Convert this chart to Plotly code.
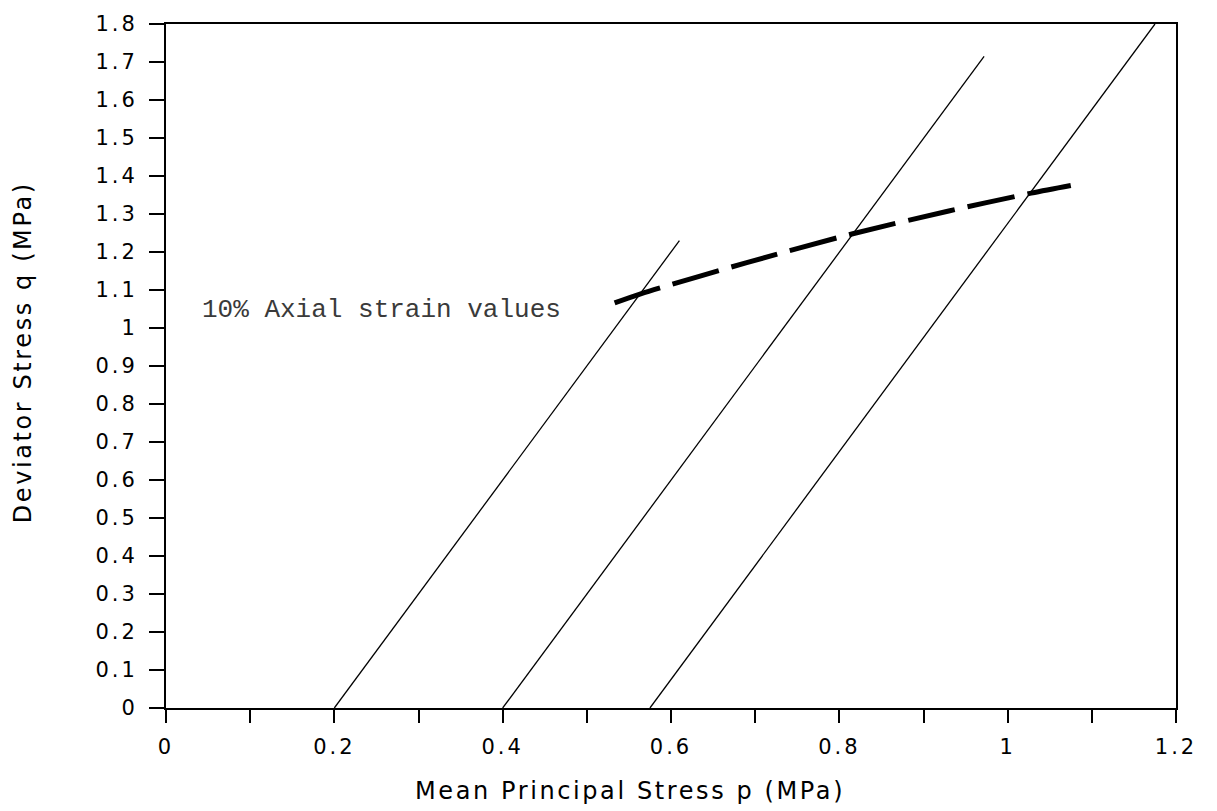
import plotly.graph_objects as go

# Total stress paths in p-q space (MPa)
path1_p = [0.2, 0.61]
path1_q = [0.0, 1.23]
path2_p = [0.4, 0.972]
path2_q = [0.0, 1.715]
path3_p = [0.575, 1.175]
path3_q = [0.0, 1.8]

# Deviator stress reached at 10% axial strain
strain_p = [0.533, 0.564, 0.69, 0.816, 0.93, 1.028, 1.075]
strain_q = [1.066, 1.09, 1.172, 1.248, 1.308, 1.355, 1.375]

x_tickvals = [0.0, 0.1, 0.2, 0.3, 0.4, 0.5, 0.6, 0.7, 0.8, 0.9, 1.0, 1.1, 1.2]
x_ticktext = ["0", "", "0.2", "", "0.4", "", "0.6", "", "0.8", "", "1", "", "1.2"]
y_tickvals = [0.0, 0.1, 0.2, 0.3, 0.4, 0.5, 0.6, 0.7, 0.8, 0.9, 1.0,
              1.1, 1.2, 1.3, 1.4, 1.5, 1.6, 1.7, 1.8]
y_ticktext = ["0", "0.1", "0.2", "0.3", "0.4", "0.5", "0.6", "0.7", "0.8", "0.9", "1",
              "1.1", "1.2", "1.3", "1.4", "1.5", "1.6", "1.7", "1.8"]

x_title = "Mean Principal Stress p (MPa)"
y_title = "Deviator Stress q (MPa)"
note_text = "10% Axial strain values"


def spaced(text, px):
    """Wrap text so its glyphs are drawn with extra letter spacing."""
    if not text:
        return text
    return '<span style="letter-spacing:{}px">{}</span>'.format(px, text)


fig = go.Figure()
for px_, qy_ in [(path1_p, path1_q), (path2_p, path2_q), (path3_p, path3_q)]:
    fig.add_trace(go.Scatter(x=px_, y=qy_, mode="lines",
                             line=dict(color="black", width=1.3),
                             showlegend=False, hoverinfo="skip"))

fig.add_trace(go.Scatter(x=strain_p, y=strain_q, mode="lines",
                         line=dict(color="black", width=5, dash="48px,13px",
                                   shape="spline", smoothing=0.8),
                         showlegend=False, hoverinfo="skip"))

tick_font = dict(family="DejaVu Sans", size=21, color="black")
title_font = dict(family="DejaVu Sans", size=24, color="black")

fig.update_xaxes(range=[0, 1.2], tickmode="array", tickvals=x_tickvals,
                 ticktext=[spaced(t, 3) for t in x_ticktext],
                 ticks="outside", ticklen=13, tickwidth=2, tickcolor="black",
                 showline=True, linecolor="black", linewidth=2, mirror=True,
                 showgrid=False, zeroline=False, tickfont=tick_font,
                 ticklabelstandoff=6)
fig.update_yaxes(range=[0, 1.8], tickmode="array", tickvals=y_tickvals,
                 ticktext=[spaced(t, 3) for t in y_ticktext],
                 ticks="outside", ticklen=15, tickwidth=2, tickcolor="black",
                 showline=True, linecolor="black", linewidth=2, mirror=True,
                 showgrid=False, zeroline=False, tickfont=tick_font,
                 ticklabelstandoff=7)

fig.add_annotation(text=spaced(x_title, 2.6), xref="paper", yref="paper",
                   x=0.459, y=-0.121, xanchor="center", yanchor="middle",
                   showarrow=False, font=title_font)
fig.add_annotation(text=spaced(y_title, 2.6), xref="paper", yref="paper",
                   x=-0.1416, y=0.52, xanchor="center", yanchor="middle",
                   textangle=-90, showarrow=False, font=title_font)
fig.add_annotation(text=note_text, xref="x", yref="y", x=0.0405, y=1.047,
                   xanchor="left", yanchor="middle", showarrow=False,
                   font=dict(family="Liberation Mono", size=26, color="#3a3a3a"))

fig.update_layout(width=1217, height=811, paper_bgcolor="white", plot_bgcolor="white",
                  margin=dict(l=166, r=41, t=20, b=103))

fig.write_html("out.html")
